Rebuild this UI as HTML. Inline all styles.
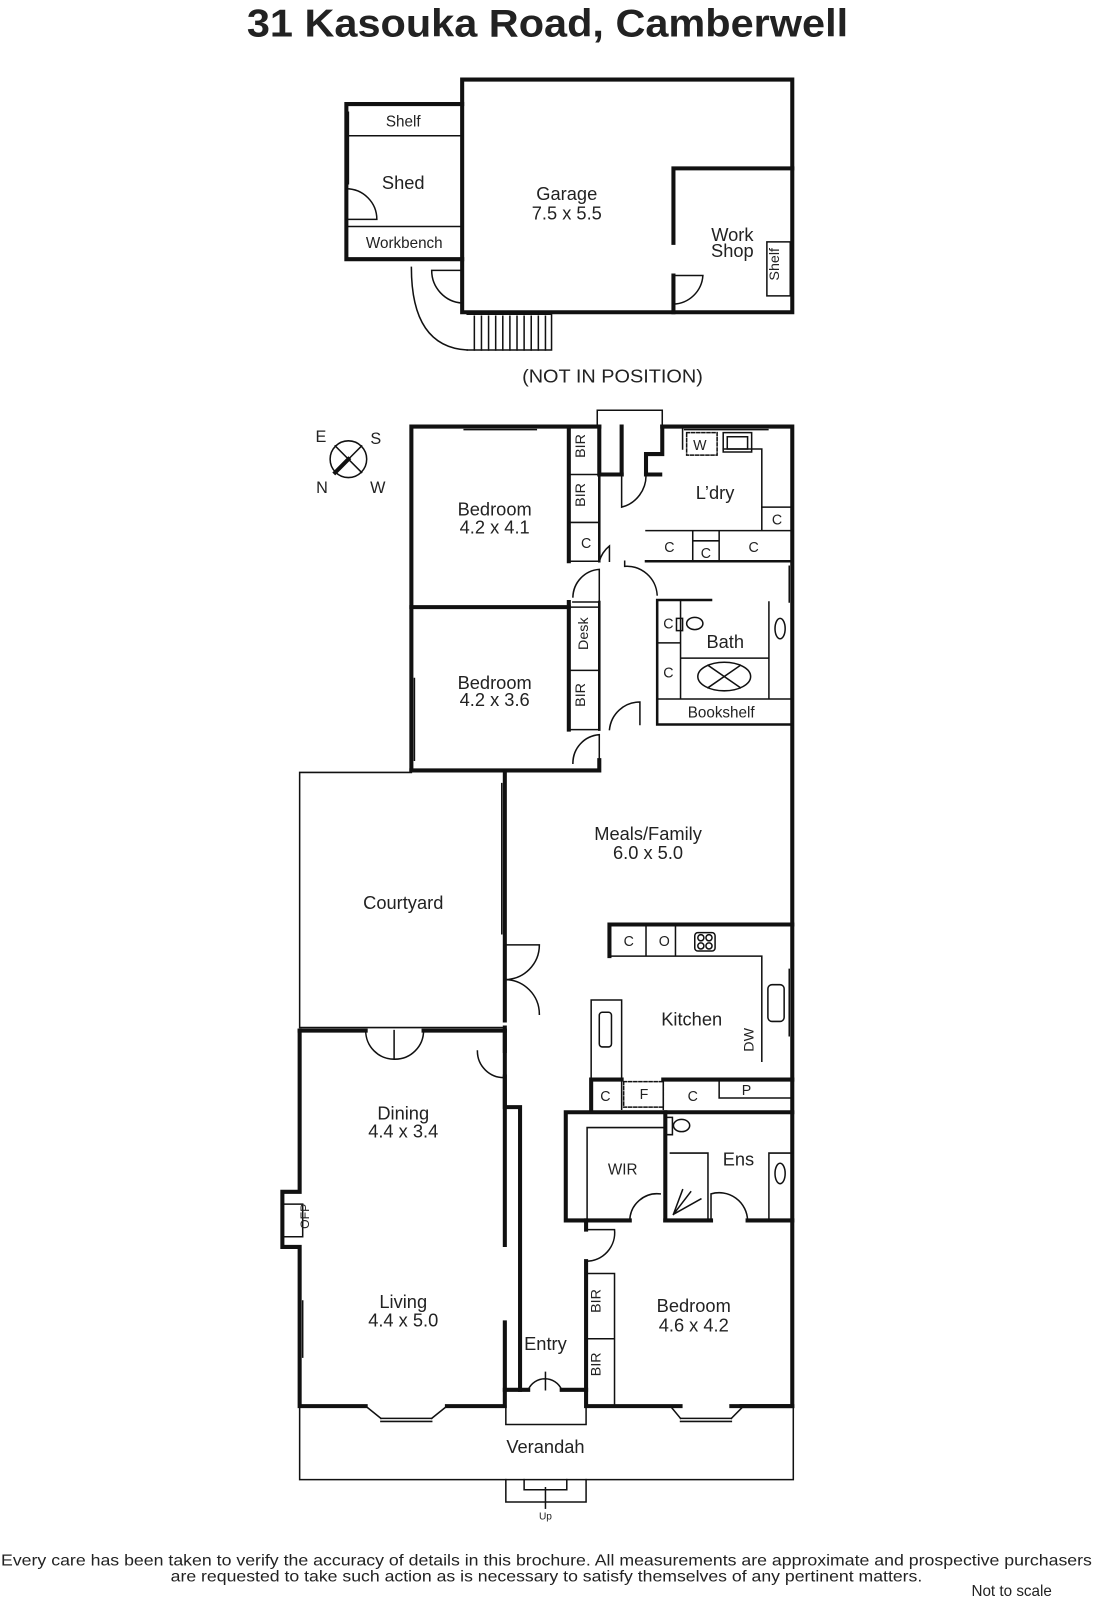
<!DOCTYPE html>
<html><head><meta charset="utf-8"><style>
html,body{margin:0;padding:0;background:#fff;}
svg{display:block;}
text{font-family:"Liberation Sans",sans-serif;fill:#222;}
</style></head><body>
<svg width="1097" height="1600" viewBox="0 0 1080 1568" preserveAspectRatio="none" xmlns="http://www.w3.org/2000/svg">
<g fill="none" stroke="#111" stroke-linecap="square">
<g stroke-width="4">
<path d="M455 306 V78 H780 V306 H455"/>
<path d="M455 102 H341 V254 H455"/>
<path d="M663 306 V270 M663 238 V165 H780"/>
</g>
<g stroke-width="1.5">
<path d="M343 133 H453 M343 222 H453"/>
<path d="M466 78 H560 M660 78 H772"/>
<path d="M343 110 V180 M350 102 H448"/>
<path d="M755 237 H778 V290 H755 Z"/>
<path d="M341 185 A30 30 0 0 1 371 215 H341"/>
<path d="M455 265 H425 A32 32 0 0 0 455 297"/>
<path d="M663 270 H692 A30 30 0 0 1 663 298"/>
<path d="M405 262 Q405 340 460 343"/>
<path d="M460 308 H543 V343 H460"/>
<path d="M467 310 V343 M474 310 V343 M481 310 V343 M488 310 V343 M495 310 V343 M502 310 V343 M509 310 V343 M516 310 V343 M523 310 V343 M530 310 V343 M537 310 V343"/>
</g>
<g stroke-width="1.5"><circle cx="343" cy="450" r="18"/><path d="M330 437 L356 463 M356 437 L330 463"/><path d="M343 450 L330 463" stroke-width="4"/></g>
<g stroke-width="4">
<path d="M405 755 V418 H590 M652 418 H780 V1378 H720"/>
<path d="M405 595 H560"/>
<path d="M560 418 V550 M560 590 V715"/>
<path d="M405 755 H590 V745"/>
<path d="M590 418 V465 H612 V418"/>
<path d="M652 418 V445 H636 V465"/>
<path d="M600 465 H612 M636 465 H650"/>
<path d="M497 757 V1000 M497 1010 V1190 M497 1180 V1220 M497 1296 V1362"/>
<path d="M497 1007 V1030 M497 1055 V1085 H512 V1362"/>
<path d="M295 1010 H360 M417 1010 H497"/>
<path d="M295 1010 V1168 H278 V1222 H295 V1378 H360 M440 1378 H497 V1362 H520 M553 1362 H577 V1378 H670 M730 1378 H780"/>
<path d="M600 937 V906 H780"/>
<path d="M557 1090 H780 M557 1090 V1196 H620 M655 1196 H700 M736 1196 H780"/>
<path d="M577 1236 V1362 M577 1196 V1205"/>
<path d="M582 1087 V1058 H612 M653 1058 H780"/>
<path d="M655 1090 V1196"/>
</g>
<g stroke-width="2.5">
<path d="M590 418 V550 M590 590 V715 M636 550 H780 M647 588 V710 H780 M647 588 H700"/>
</g>
<g stroke-width="1.5">
<path d="M457 418 H528 M457 421 H528 M674 418 H756 M674 421 H756"/>
<path d="M588 402 H652 V418 M588 402 V418"/>
<path d="M405 665 V745 M408 665 V745 M410 755 H445"/>
<path d="M497 768 V915 M494 768 V915"/>
<path d="M780 555 V590 M777 555 V590 M780 950 V1015 M777 950 V1015 M780 1090 V1130 M780 1200 V1240"/>
<path d="M295 1275 V1330 M298 1275 V1330"/>
<path d="M375 1390 H425 M375 1393 H425 M670 1390 H720 M670 1393 H720"/>
<path d="M360 1378 L375 1390 M425 1390 L440 1378 M670 1390 L660 1378 M720 1390 L732 1378"/>
<path d="M405 757 H295 V1007 H497"/>
<path d="M295 1378 V1450 H781 V1378"/>
<path d="M498 1378 V1396 H577 V1378"/>
<path d="M498 1450 V1472 H577 V1450 M516 1450 V1460 H558 V1450"/>
<path d="M537 1478 V1458"/>
<path d="M560 418 H590 M560 465 H590 M560 512 H590 M560 550 H590"/>
<path d="M560 595 H590 M560 657 H590 M560 715 H590"/>
<path d="M560 600 V655"/>
<path d="M636 520 H780 M682 520 V550 M708 520 V550 M682 530 H708 M750 520 V497 H780"/>
<path d="M750 497 V440 H712 M672 440 V418"/>
<path d="M676 424 H706 V446 H676 Z" stroke-dasharray="3 2"/>
<path d="M712 424 H740 V443 H712 Z M716 428 H736 V440 H716 Z"/>
<path d="M647 630 H670 M670 588 V685 M670 645 H757 M757 590 V685 M647 685 H780"/>
<path d="M666 606 H672 V618 H666 Z"/><ellipse cx="684" cy="611" rx="8" ry="6"/>
<ellipse cx="768" cy="616" rx="5" ry="10"/>
<ellipse cx="713" cy="663" rx="26" ry="14"/><path d="M697 652 L729 674 M729 652 L697 674"/>
<path d="M612 465 V497 A32 32 0 0 0 636 465"/>
<path d="M590 550 A30 30 0 0 1 600 535 V550"/>
<path d="M564 585 A28 28 0 0 1 590 558 V590 H564"/>
<path d="M647 583 A30 30 0 0 0 615 555 V550"/>
<path d="M600 715 A30 30 0 0 1 630 688 V710"/>
<path d="M564 748 A28 28 0 0 1 590 720 V748"/>
<path d="M497 960 A34 34 0 0 1 531 994 M497 960 A34 34 0 0 0 531 926 L497 926"/>
<path d="M360 1010 A28 28 0 0 0 388 1038 V1010 M417 1010 A28 28 0 0 1 389 1038"/>
<path d="M470 1030 A26 26 0 0 0 497 1056"/>
<path d="M278 1180 H298 V1212 H278"/>
<path d="M498 1362 V1296 M520 1362 A18 18 0 0 1 553 1362 M537 1345 V1362"/>
<path d="M600 937 H750 V1040 M636 906 V937 M665 906 V937"/>
<rect x="684" y="914" width="20" height="18" rx="3"/><circle cx="690" cy="919" r="3"/><circle cx="698" cy="919" r="3"/><circle cx="690" cy="927" r="3"/><circle cx="698" cy="927" r="3"/>
<path d="M582 1058 V980 H612 V1058"/>
<rect x="590" y="992" width="12" height="34" rx="3"/>
<rect x="756" y="965" width="16" height="36" rx="4"/>
<path d="M612 1058 V1087 M653 1058 V1087 M708 1058 V1076 H778"/>
<path d="M614 1060 H653 V1085 H614 Z" stroke-dasharray="3 2"/>
<path d="M578 1105 H655 M578 1105 V1196"/>
<path d="M660 1130 H697 V1196 M757 1130 H780 M757 1130 V1196"/>
<path d="M656 1095 H662 V1112 H656 Z"/><ellipse cx="671" cy="1103" rx="8" ry="6"/>
<ellipse cx="768" cy="1150" rx="5" ry="10"/>
<path d="M620 1196 A27 27 0 0 1 650 1170 M700 1196 V1170 A28 28 0 0 1 736 1196"/>
<path d="M663 1190 L690 1175 M663 1190 L680 1168 M663 1190 L672 1166"/>
<path d="M577 1236 A28 28 0 0 0 605 1205 H577"/>
<path d="M577 1248 H605 V1376 M577 1312 H605"/>
</g>
</g>
<g text-anchor="middle">
<text x="539" y="36" font-size="38" font-weight="bold" fill="#111" textLength="592" lengthAdjust="spacingAndGlyphs">31 Kasouka Road, Camberwell</text>
<text x="397" y="124" font-size="15">Shelf</text>
<text x="397" y="185" font-size="18">Shed</text>
<text x="398" y="243" font-size="15">Workbench</text>
<text x="558" y="196" font-size="18">Garage</text>
<text x="558" y="215" font-size="18">7.5 x 5.5</text>
<text x="721" y="236" font-size="18">Work</text>
<text x="721" y="252" font-size="18">Shop</text>
<text x="772" y="264" font-size="14" transform="rotate(-90 767 264)">Shelf</text>
<text x="603" y="375" font-size="18" textLength="178" lengthAdjust="spacingAndGlyphs">(NOT IN POSITION)</text>
<text x="316" y="433" font-size="16">E</text><text x="370" y="435" font-size="16">S</text>
<text x="317" y="483" font-size="16">N</text><text x="372" y="483" font-size="16">W</text>
<text x="487" y="505" font-size="18">Bedroom</text><text x="487" y="523" font-size="18">4.2 x 4.1</text>
<text x="487" y="675" font-size="18">Bedroom</text><text x="487" y="692" font-size="18">4.2 x 3.6</text>
<text x="581" y="442" font-size="14" transform="rotate(-90 576 442)">BIR</text>
<text x="581" y="490" font-size="14" transform="rotate(-90 576 490)">BIR</text>
<text x="577" y="537" font-size="14">C</text>
<text x="584" y="626" font-size="14" transform="rotate(-90 579 626)">Desk</text>
<text x="581" y="686" font-size="14" transform="rotate(-90 576 686)">BIR</text>
<text x="689" y="441" font-size="14">W</text>
<text x="704" y="489" font-size="18">L’dry</text>
<text x="765" y="514" font-size="14">C</text>
<text x="659" y="541" font-size="14">C</text><text x="695" y="547" font-size="14">C</text><text x="742" y="541" font-size="14">C</text>
<text x="658" y="616" font-size="14">C</text><text x="658" y="664" font-size="14">C</text>
<text x="714" y="635" font-size="18">Bath</text>
<text x="710" y="703" font-size="15">Bookshelf</text>
<text x="638" y="823" font-size="18">Meals/Family</text><text x="638" y="842" font-size="18">6.0 x 5.0</text>
<text x="397" y="891" font-size="18">Courtyard</text>
<text x="619" y="927" font-size="14">C</text><text x="654" y="927" font-size="14">O</text>
<text x="681" y="1005" font-size="18">Kitchen</text>
<text x="747" y="1024" font-size="14" transform="rotate(-90 742 1024)">DW</text>
<text x="596" y="1079" font-size="14">C</text><text x="634" y="1077" font-size="14">F</text>
<text x="682" y="1079" font-size="14">C</text><text x="735" y="1073" font-size="14">P</text>
<text x="397" y="1097" font-size="18">Dining</text><text x="397" y="1115" font-size="18">4.4 x 3.4</text>
<text x="613" y="1151" font-size="15">WIR</text>
<text x="727" y="1142" font-size="18">Ens</text>
<text x="309" y="1197" font-size="12" transform="rotate(-90 304 1197)">OFP</text>
<text x="397" y="1282" font-size="18">Living</text><text x="397" y="1300" font-size="18">4.4 x 5.0</text>
<text x="683" y="1286" font-size="18">Bedroom</text><text x="683" y="1305" font-size="18">4.6 x 4.2</text>
<text x="596" y="1280" font-size="14" transform="rotate(-90 591 1280)">BIR</text>
<text x="596" y="1342" font-size="14" transform="rotate(-90 591 1342)">BIR</text>
<text x="537" y="1323" font-size="18">Entry</text>
<text x="537" y="1424" font-size="18">Verandah</text>
<text x="537" y="1489" font-size="10">Up</text>
<text x="538" y="1534" font-size="15" textLength="1074" lengthAdjust="spacingAndGlyphs">Every care has been taken to verify the accuracy of details in this brochure.  All measurements are approximate and prospective purchasers</text>
<text x="538" y="1550" font-size="15" textLength="740" lengthAdjust="spacingAndGlyphs">are requested to take such action as is necessary to satisfy themselves of any pertinent matters.</text>
<text x="996" y="1564" font-size="15">Not to scale</text>
</g>
</svg>
</body></html>
